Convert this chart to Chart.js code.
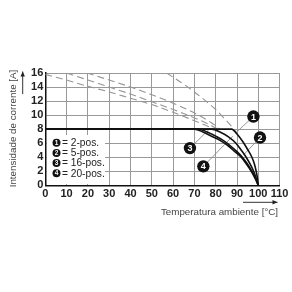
<!DOCTYPE html>
<html><head><meta charset="utf-8">
<script src="https://cdn.jsdelivr.net/npm/chart.js@4.4.1/dist/chart.umd.min.js"></script>
<style>html,body{margin:0;padding:0;background:#fff;}canvas{display:block;}</style>
</head><body>
<canvas id="c" width="292" height="292"></canvas>
<script>
const yTitle = 'Intensidade de corrente [A]';
const xTitle = 'Temperatura ambiente [°C]';
const legendLabels = ['= 2-pos.', '= 5-pos.', '= 16-pos.', '= 20-pos.'];
const markerLabels = ['1', '2', '3', '4'];

// solid derating curves
const curve1T = [0, 87.5, 90, 93, 95, 97, 98.2, 99, 99.6, 100];
const curve1I = [8, 8, 7.3, 6.1, 5.1, 4.0, 3.0, 2.0, 1.0, 0];
const curve2T = [0, 78, 82, 86, 89.5, 92, 94.3, 96.2, 97.8, 99, 100];
const curve2I = [8, 8, 7.6, 6.9, 6.0, 5.0, 4.0, 3.0, 2.0, 1.0, 0];
const curve3T = [0, 72, 76, 80, 84, 87, 90, 92.5, 95, 97, 98.7, 100];
const curve3I = [8, 8, 7.6, 7.0, 6.3, 5.6, 4.8, 4.0, 3.0, 2.0, 1.0, 0];
const curve4T = [0, 70, 74, 78, 82, 86, 89, 92, 94.5, 96.7, 98.5, 100];
const curve4I = [8, 8, 7.6, 7.0, 6.4, 5.6, 4.8, 4.0, 3.0, 2.0, 1.0, 0];

// dashed base curves
const dash1T = [57, 60, 65, 70, 75, 80, 85, 88, 90];
const dash1I = [16, 15.4, 14.4, 13.3, 12.1, 10.8, 9.2, 8.2, 7.4];
const dashXT = [0, 10, 20, 30, 40, 50, 60, 70, 78, 81];
const dashXI = [15.8, 15.0, 14.1, 13.3, 12.4, 11.5, 10.4, 9.2, 8.2, 7.8];
const dashYT = [10, 20, 30, 40, 50, 60, 70, 78, 81];
const dashYI = [16, 15.0, 14.0, 13.0, 11.9, 10.8, 9.6, 8.5, 8.0];
const dashZT = [19.5, 30, 40, 50, 60, 70, 78, 82];
const dashZI = [16, 15.0, 14.0, 12.9, 11.7, 10.3, 8.9, 8.0];

// numbered markers and leader lines
const markerT = [97.7, 100.8, 67.9, 74.2];
const markerI = [9.8, 6.8, 5.3, 2.7];
const leader1T = [97.7, 89.5], leader1I = [9.8, 7.5];
const leader2T = [100.8, 93.0], leader2I = [6.8, 4.3];
const leader3T = [67.9, 77.0], leader3I = [5.3, 8.0];
const leader4T = [74.2, 88.0], leader4I = [2.7, 7.0];

const pts = (xs, ys) => xs.map((v, i) => ({x: v, y: ys[i]}));

const solid = (xs, ys) => ({data: pts(xs, ys), borderColor: '#111', borderWidth: 1.6, pointRadius: 0,
  cubicInterpolationMode: 'monotone', fill: false, order: 1});
const dashed = (xs, ys) => ({data: pts(xs, ys), borderColor: '#959595', borderWidth: 1.1, borderDash: [7, 4],
  pointRadius: 0, cubicInterpolationMode: 'monotone', fill: false, order: 3});
const leader = (xs, ys) => ({data: pts(xs, ys), borderColor: '#8a8a8a', borderWidth: 0.9, pointRadius: 0,
  fill: false, order: 2});

const markerDs = {data: pts(markerT, markerI), showLine: false, pointRadius: 6.2, pointHoverRadius: 6.2,
  pointBackgroundColor: '#111', pointBorderWidth: 0, order: 0};

const FONT = '"Liberation Sans", Arial, sans-serif';

function arrow(ctx, x1, y1, x2, y2) {
  ctx.beginPath(); ctx.moveTo(x1, y1); ctx.lineTo(x2, y2); ctx.stroke();
  const a = Math.atan2(y2 - y1, x2 - x1), L = 5, W = 2.2;
  ctx.beginPath();
  ctx.moveTo(x2, y2);
  ctx.lineTo(x2 - L * Math.cos(a) + W * Math.sin(a), y2 - L * Math.sin(a) - W * Math.cos(a));
  ctx.lineTo(x2 - L * Math.cos(a) - W * Math.sin(a), y2 - L * Math.sin(a) + W * Math.cos(a));
  ctx.closePath(); ctx.fill();
}

const deco = {
  id: 'deco',
  beforeDatasetsDraw(chart) {
    const ctx = chart.ctx;
    ctx.save();
    ctx.fillStyle = '#fff';
    ctx.fillRect(47, 135, 58, 49);
    ctx.restore();
  },
  afterDatasetsDraw(chart) {
    const ctx = chart.ctx;
    ctx.save();
    const meta = chart.getDatasetMeta(0);
    ctx.fillStyle = '#fff';
    ctx.font = 'bold 9px ' + FONT;
    ctx.textAlign = 'center'; ctx.textBaseline = 'middle';
    meta.data.forEach((p, i) => ctx.fillText(markerLabels[i], p.x, p.y + 0.5));
    legendLabels.forEach((t, i) => {
      const cy = 142.7 + i * 10.2;
      ctx.fillStyle = '#111';
      ctx.beginPath(); ctx.arc(56.5, cy, 4.0, 0, Math.PI * 2); ctx.fill();
      ctx.fillStyle = '#fff'; ctx.font = 'bold 6.5px ' + FONT; ctx.textAlign = 'center';
      ctx.fillText(String(i + 1), 56.5, cy + 0.4);
      ctx.fillStyle = '#222'; ctx.font = '10.2px ' + FONT; ctx.textAlign = 'left';
      ctx.fillText(t, 62, cy + 0.5);
    });
    ctx.restore();
  },
  afterDraw(chart) {
    const ctx = chart.ctx;
    ctx.save();
    ctx.fillStyle = '#444'; ctx.strokeStyle = '#333'; ctx.lineWidth = 1;
    ctx.font = '9.8px ' + FONT;
    ctx.textAlign = 'center'; ctx.textBaseline = 'middle';
    ctx.save();
    ctx.translate(13, 128.5); ctx.rotate(-Math.PI / 2);
    ctx.fillText(yTitle, 0, 0);
    ctx.restore();
    ctx.fillText(xTitle, 219.5, 212.5);
    ctx.fillStyle = '#222';
    arrow(ctx, 22.7, 94, 22.7, 71.5);
    arrow(ctx, 243, 202.3, 277.5, 202.3);
    ctx.restore();
  }
};

new Chart(document.getElementById('c'), {
  type: 'line',
  data: {
    datasets: [
      markerDs,
      solid(curve1T, curve1I), solid(curve2T, curve2I), solid(curve3T, curve3I), solid(curve4T, curve4I),
      leader(leader1T, leader1I), leader(leader2T, leader2I), leader(leader3T, leader3I), leader(leader4T, leader4I),
      dashed(dash1T, dash1I), dashed(dashXT, dashXI), dashed(dashYT, dashYI), dashed(dashZT, dashZI)
    ]
  },
  options: {
    responsive: false, animation: false, devicePixelRatio: 1,
    layout: {padding: {left: 0, top: 73, right: 12.4, bottom: 0}},
    plugins: {legend: {display: false}, tooltip: {enabled: false}},
    scales: {
      x: {type: 'linear', min: 0, max: 110,
        ticks: {stepSize: 10, autoSkip: false, font: {family: FONT, size: 11, weight: 'bold'}, color: '#222', padding: 2, maxRotation: 0},
        grid: {color: '#999', lineWidth: 1, drawTicks: false},
        border: {color: '#111', width: 1.5},
        afterFit: s => { s.height = 106.7; }},
      y: {type: 'linear', min: 0, max: 16,
        ticks: {stepSize: 2, autoSkip: false, font: {family: FONT, size: 11, weight: 'bold'}, color: '#222', padding: 2},
        grid: {color: '#999', lineWidth: 1, drawTicks: false},
        border: {color: '#111', width: 1.5},
        afterFit: s => { s.width = 45.3; }}
    }
  },
  plugins: [deco]
});
</script>
</body></html>
